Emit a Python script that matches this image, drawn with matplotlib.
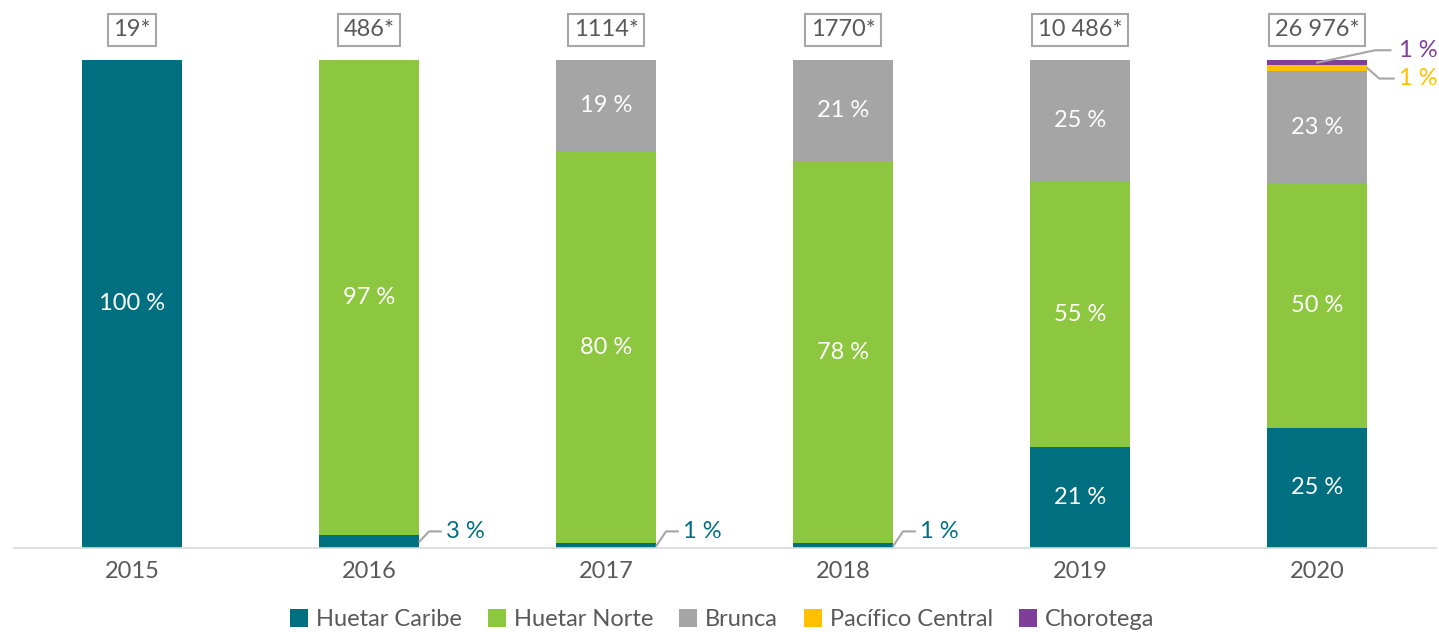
import matplotlib
matplotlib.use("Agg")
import matplotlib.pyplot as plt
import numpy as np

years = ["2015", "2016", "2017", "2018", "2019", "2020"]
totals = ["19*", "486*", "1114*", "1770*", "10 486*", "26 976*"]
series_names = ["Huetar Caribe", "Huetar Norte", "Brunca", "Pacífico Central", "Chorotega"]
huetar_caribe = [100.0, 2.6, 1.0, 1.0, 20.6, 24.6]
huetar_norte = [0.0, 97.4, 80.3, 78.2, 54.6, 50.2]
brunca = [0.0, 0.0, 18.7, 20.8, 24.8, 22.9]
pacifico_central = [0.0, 0.0, 0.0, 0.0, 0.0, 1.2]
chorotega = [0.0, 0.0, 0.0, 0.0, 0.0, 1.1]
colors = ["#007080", "#8DC63F", "#A5A5A5", "#FFC000", "#7F3F98"]

plt.rcParams['font.family'] = ['Lato', 'DejaVu Sans']
W, H = 1439, 632
fig = plt.figure(figsize=(W / 100, H / 100), dpi=100)
ax = fig.add_axes([13.5 / W, (H - 548) / H, 1422 / W, 488 / H])

FS = 17
x = np.arange(len(years))
bw = 0.426
data = [huetar_caribe, huetar_norte, brunca, pacifico_central, chorotega]
bottom = np.zeros(len(years))
for name, vals, c in zip(series_names, data, colors):
    v = np.array(vals)
    ax.bar(x, v, bw, bottom=bottom, color=c, label=name, linewidth=0)
    for i, val in enumerate(v):
        if val >= 10:
            ax.text(x[i], bottom[i] + val / 2, f"{round(val)} %", ha="center", va="center",
                    color="white", fontsize=FS)
    bottom = bottom + v

ax.set_xlim(-0.5, len(years) - 0.5)
ax.set_ylim(0, 100)
ax.set_yticks([])
ax.set_xticks(x)
ax.set_xticklabels(years, fontsize=FS, color="#595959")
ax.tick_params(axis="x", length=0, pad=9)
for s in ["top", "right", "left"]:
    ax.spines[s].set_visible(False)
ax.spines["bottom"].set_color("#D9D9D9")
ax.spines["bottom"].set_linewidth(1.2)

# totals boxes
for i, t in enumerate(totals):
    ax.text(x[i], 106.2, t, ha="center", va="center", fontsize=FS, color="#595959",
            bbox=dict(boxstyle="square,pad=0.24", fc="white", ec="#A6A6A6", lw=1.5),
            clip_on=False)

# small value callouts for Huetar Caribe (2016-2018)
line_col = "#A6A6A6"
for i in [1, 2, 3]:
    val = huetar_caribe[i]
    xe = x[i] + bw / 2
    ymid = val / 2
    ax.plot([xe, xe + 0.04, xe + 0.09], [ymid, 3.4, 3.4], color=line_col, lw=1.5, clip_on=False)
    ax.text(xe + 0.11, 3.4, f"{round(val)} %", ha="left", va="center", fontsize=FS,
            color=colors[0], clip_on=False)

# 2020 small callouts
i = 5
base_pc = huetar_caribe[i] + huetar_norte[i] + brunca[i]
# Chorotega
ych = base_pc + pacifico_central[i] + chorotega[i] / 2
ax.plot([x[i], x[i] + 0.245, x[i] + 0.31], [ych, 102.0, 102.0], color=line_col, lw=1.5, clip_on=False)
ax.text(x[i] + 0.345, 102.0, f"{round(chorotega[i])} %", ha="left", va="center", fontsize=FS,
        color=colors[4], clip_on=False)
# Pacifico Central
ypc = base_pc + pacifico_central[i] / 2
xe = x[i] + bw / 2
ax.plot([xe, xe + 0.05, xe + 0.11], [ypc, 96.2, 96.2], color=line_col, lw=1.5, clip_on=False)
ax.text(x[i] + 0.345, 96.2, f"{round(pacifico_central[i])} %", ha="left", va="center", fontsize=FS,
        color="#FFC000", clip_on=False)

leg = fig.legend(loc="lower center", bbox_to_anchor=(0.502, -0.031), ncol=5, frameon=False,
                 fontsize=FS, handlelength=0.75, handleheight=0.75, handletextpad=0.35,
                 columnspacing=1.1, labelcolor="#595959")

fig.savefig("out.png", dpi=100)
